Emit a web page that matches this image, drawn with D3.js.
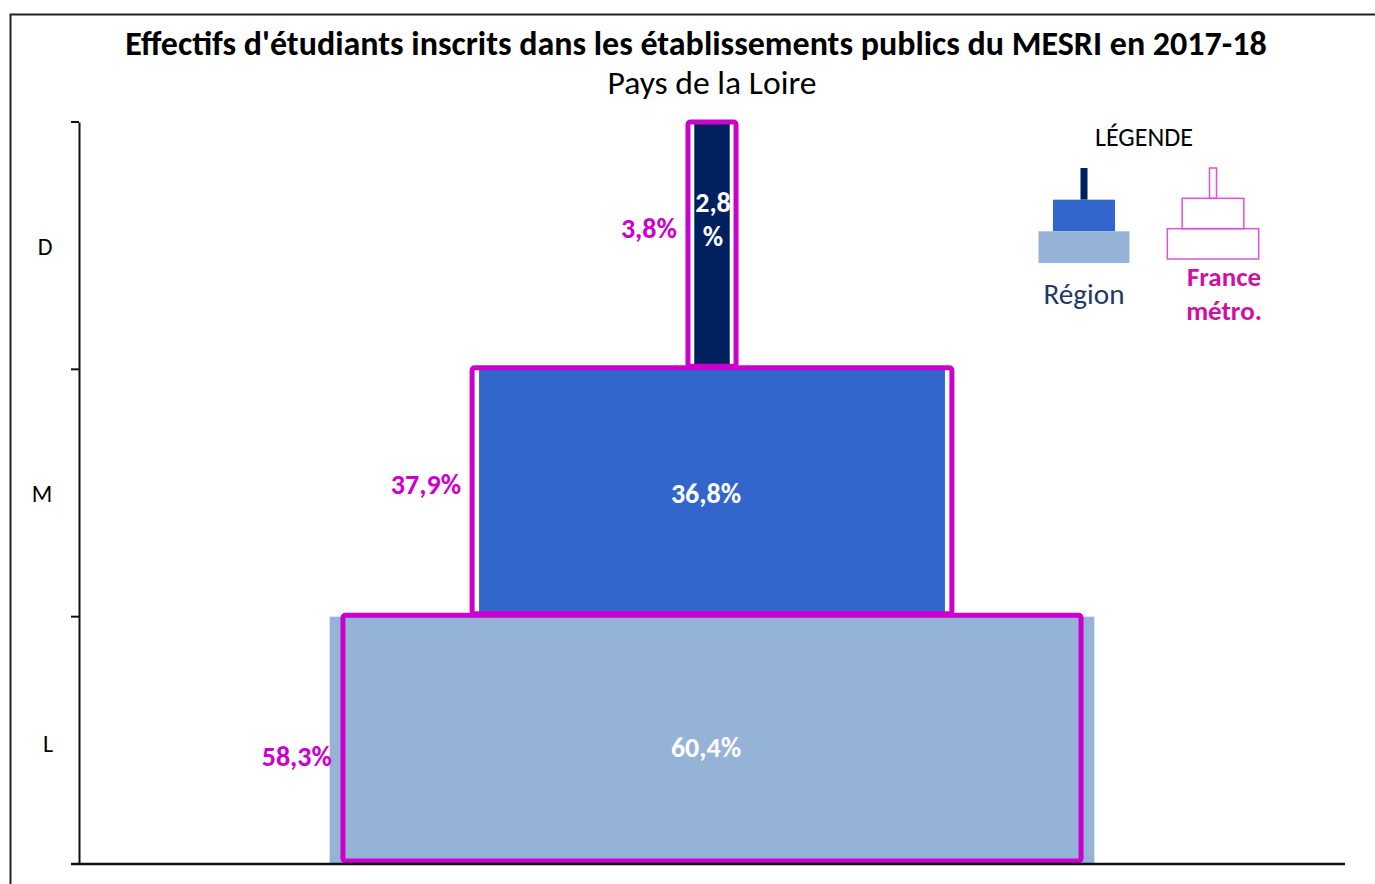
<!DOCTYPE html>
<html><head><meta charset="utf-8">
<script src="https://cdn.jsdelivr.net/npm/d3@7"></script>
<style>
html,body{margin:0;padding:0;background:#fff;}
svg{display:block;}
text{font-family:Calibri,Carlito,Lato,"Open Sans",sans-serif;}
</style></head>
<body>
<svg id="chart" width="1375" height="884"></svg>
<script>
// ---- data ----
const categories = ["D", "M", "L"];
const regionValues = [2.8, 36.8, 60.4];
const franceValues = [3.8, 37.9, 58.3];
const regionLabels = ["2,8\n%", "36,8%", "60,4%"];
const franceLabels = ["3,8%", "37,9%", "58,3%"];
const titleText = "Effectifs d'étudiants inscrits dans les établissements publics du MESRI en 2017-18";
const subtitleText = "Pays de la Loire";
const legendTitle = "LÉGENDE";
const legendRegion = "Région";
const legendFrance = ["France", "métro."];

// ---- styles / layout ----
const regionColors = ["#002060", "#3366CC", "#95B3D7"];
const franceColor = "#CC00CC";
const legendFranceColor = "#D010A0";
const franceLabelDy = [-17, -9, 16];
const regionLabelDy = [-43, 0, 7];
const axisLabelOffset = [[-34, 2], [-37, 1], [-31, 4]];

const svg = d3.select("#chart");
const W = 1375, H = 884;
const m = {left: 79, right: 1345, top: 122, bottom: 864};

// outer frame
svg.append("rect").attr("x", 10.5).attr("y", 14.5).attr("width", W).attr("height", H)
  .attr("fill", "none").attr("stroke", "#222").attr("stroke-width", 2);

const x = d3.scaleLinear().domain([-50, 50]).range([m.left, m.right]);
const y = d3.scaleBand().domain(categories).range([m.top, m.bottom]).padding(0);

// region bars
svg.append("g").selectAll("rect").data(categories).join("rect")
  .attr("x", (c, i) => x(-regionValues[i] / 2))
  .attr("width", (c, i) => x(regionValues[i] / 2) - x(-regionValues[i] / 2))
  .attr("y", c => y(c))
  .attr("height", c => y.bandwidth() - (c === "L" ? 0 : 4))
  .attr("fill", (c, i) => regionColors[i]);

// france outlines
svg.append("g").selectAll("rect").data(categories).join("rect")
  .attr("x", (c, i) => x(-franceValues[i] / 2))
  .attr("width", (c, i) => x(franceValues[i] / 2) - x(-franceValues[i] / 2))
  .attr("y", c => y(c) - 1.5 + (c === "D" ? 1.5 : 0))
  .attr("height", c => y.bandwidth() - 1.5 - (c === "D" ? 1.5 : 0))
  .attr("rx", 2.5)
  .attr("fill", "none").attr("stroke", franceColor).attr("stroke-width", 5);

// axes
const yAxis = d3.axisLeft(y).tickSize(0).tickPadding(24);
const gy = svg.append("g").attr("transform", `translate(${m.left},0)`).call(yAxis);
gy.select(".domain").attr("stroke", "#111").attr("stroke-width", 2);
gy.selectAll(".tick text").attr("font-size", 24).attr("fill", "#000")
  .style("font-family", "Calibri,Carlito,Lato,sans-serif").attr("text-anchor", "middle")
  .attr("x", (c, i) => axisLabelOffset[i][0]).attr("y", (c, i) => axisLabelOffset[i][1]);
// boundary ticks
const bounds = categories.map(c => y(c)).concat([m.bottom]);
svg.append("g").selectAll("line").data(bounds).join("line")
  .attr("x1", m.left - 8).attr("x2", m.left).attr("y1", d => d).attr("y2", d => d)
  .attr("stroke", "#111").attr("stroke-width", 2);
// x axis baseline
svg.append("line").attr("x1", m.left - 8).attr("x2", m.right).attr("y1", m.bottom).attr("y2", m.bottom)
  .attr("stroke", "#111").attr("stroke-width", 2.5);

// region labels
const rl = svg.append("g").selectAll("text").data(categories).join("text")
  .attr("x", (c, i) => x(0) + (i === 0 ? 1 : -6))
  .attr("y", (c, i) => y(c) + y.bandwidth() / 2 + regionLabelDy[i])
  .attr("text-anchor", "middle").attr("fill", "#fff").attr("font-weight", "bold").attr("font-size", 28);
rl.each(function(c, i) {
  const lines = regionLabels[i].split("\n");
  const t = d3.select(this);
  lines.forEach((ln, k) => {
    t.append("tspan").attr("x", t.attr("x"))
      .attr("dy", k === 0 ? "0.35em" : "1.2em").text(ln);
  });
});

// france labels
svg.append("g").selectAll("text").data(categories).join("text")
  .attr("x", (c, i) => x(-franceValues[i] / 2) - 11)
  .attr("y", (c, i) => y(c) + y.bandwidth() / 2 + franceLabelDy[i])
  .attr("dy", "0.35em")
  .attr("text-anchor", "end").attr("fill", franceColor).attr("font-weight", "bold").attr("font-size", 28)
  .text((c, i) => franceLabels[i]);

// title
function fitText(sel, target) {
  const w = sel.node().getComputedTextLength();
  const fs = parseFloat(sel.attr("font-size"));
  sel.attr("font-size", fs * target / w);
}
const title = svg.append("text").attr("x", 696).attr("y", 55).attr("text-anchor", "middle")
  .attr("font-weight", "bold").attr("font-size", 26).attr("fill", "#000").text(titleText);
fitText(title, 1142);
const sub = svg.append("text").attr("x", 712).attr("y", 94).attr("text-anchor", "middle")
  .attr("font-size", 26).attr("fill", "#000").text(subtitleText);
fitText(sub, 209);

// legend
const lt = svg.append("text").attr("x", 1144).attr("y", 146).attr("text-anchor", "middle")
  .attr("font-size", 24).attr("fill", "#000").text(legendTitle);
fitText(lt, 98);

const lx = d3.scaleLinear().domain([0, 60.4]).range([0, 91]);
const legY = d3.scaleBand().domain(categories).range([168, 263]);
const minW = 7;
svg.append("g").selectAll("rect").data(categories).join("rect")
  .attr("x", (c, i) => 1084 - Math.max(minW, lx(regionValues[i]) * (i === 1 ? 1.12 : 1)) / 2)
  .attr("width", (c, i) => Math.max(minW, lx(regionValues[i]) * (i === 1 ? 1.12 : 1)))
  .attr("y", c => legY(c)).attr("height", legY.bandwidth())
  .attr("fill", (c, i) => regionColors[i]);
const legY2 = d3.scaleBand().domain(categories).range([168, 259]);
svg.append("g").selectAll("rect").data(categories).join("rect")
  .attr("x", (c, i) => 1213 - Math.max(minW, lx(franceValues[i]) * (i === 1 ? 1.08 : 1.04)) / 2)
  .attr("width", (c, i) => Math.max(minW, lx(franceValues[i]) * (i === 1 ? 1.08 : 1.04)))
  .attr("y", c => legY2(c)).attr("height", legY2.bandwidth())
  .attr("fill", "none").attr("stroke", "#E050E0").attr("stroke-width", 1.5);

const lr = svg.append("text").attr("x", 1084).attr("y", 304).attr("text-anchor", "middle")
  .attr("font-size", 28).attr("fill", "#1F3864").text(legendRegion);
fitText(lr, 81);
const lf = svg.append("g").selectAll("text").data(legendFrance).join("text")
  .attr("x", 1224).attr("y", (d, i) => 286 + i * 34).attr("text-anchor", "middle")
  .attr("font-size", 27).attr("font-weight", "bold").attr("fill", legendFranceColor).text(d => d);
</script>
</body></html>
